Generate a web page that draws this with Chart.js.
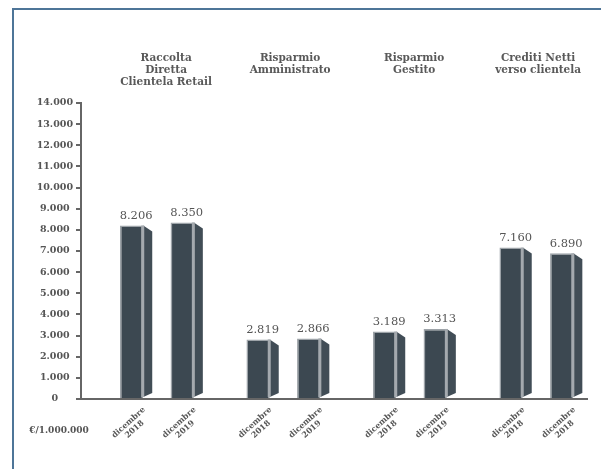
<html>
<head>
<script src="https://cdn.jsdelivr.net/npm/chart.js"></script>
<style>
  body { margin: 0; background: #fff; overflow: hidden; }
  #frame { position: absolute; left: 12px; top: 8px; width: 700px; height: 600px;
           border-left: 2px solid #4e7598; border-top: 2px solid #4e7598; }
  #c { position: absolute; left: 0; top: 0; }
</style>
</head>
<body>
<div id="frame"></div>
<canvas id="c" width="601" height="469"></canvas>
<script>
// data
const groupTitles = [
  ['Raccolta', 'Diretta', 'Clientela Retail'],
  ['Risparmio', 'Amministrato'],
  ['Risparmio', 'Gestito'],
  ['Crediti Netti', 'verso clientela']
];
const valuesFirst = [8206, 2819, 3189, 7160];
const valuesSecond = [8350, 2866, 3313, 6890];
const labelsFirst = [['dicembre', '2018'], ['dicembre', '2018'], ['dicembre', '2018'], ['dicembre', '2018']];
const labelsSecond = [['dicembre', '2019'], ['dicembre', '2019'], ['dicembre', '2019'], ['dicembre', '2018']];
const yTicks = [0, 1000, 2000, 3000, 4000, 5000, 6000, 7000, 8000, 9000, 10000, 11000, 12000, 13000, 14000];
const unitLabel = '€/1.000.000';

const SERIF = '"DejaVu Serif", serif';
const fmt = v => String(v).replace(/\B(?=(\d{3})+(?!\d))/g, '.');

// the groups sit a bit right of the y axis, titles spaced a little tighter
const shiftBars = s => { s._startValue = -0.6; s._valueRange = 4; };
const shiftTitles = s => { s._startValue = -0.686; s._valueRange = 4.08; };

const bar3d = {
  id: 'bar3d',
  afterDatasetsDraw(chart) {
    const ctx = chart.ctx;
    const depth = 9;
    const perBar = [labelsFirst, labelsSecond];
    ctx.save();
    chart.data.datasets.forEach((ds, di) => {
      chart.getDatasetMeta(di).data.forEach((el, i) => {
        const p = el.getProps(['x', 'y', 'base', 'width'], true);
        const r = p.x + p.width / 2;
        // side face
        ctx.fillStyle = '#414d56';
        ctx.beginPath();
        ctx.moveTo(r, p.y);
        ctx.lineTo(r + depth, p.y + 6);
        ctx.lineTo(r + depth, p.base - 5);
        ctx.lineTo(r, p.base - 1);
        ctx.closePath();
        ctx.fill();
        // light edge between front and side
        ctx.fillStyle = '#a4a9ae';
        ctx.fillRect(r - 2, p.y, 3, p.base - p.y - 1);

        // value label
        ctx.fillStyle = '#555';
        ctx.font = '11.5px ' + SERIF;
        ctx.textAlign = 'center';
        ctx.textBaseline = 'bottom';
        ctx.fillText(fmt(ds.data[i]), p.x + depth / 2, p.y - 4);

        // rotated period label
        const lines = perBar[di][i];
        ctx.save();
        ctx.translate(p.x, chart.chartArea.bottom + 27);
        ctx.rotate(-42 * Math.PI / 180);
        ctx.font = 'bold 8px ' + SERIF;
        ctx.textBaseline = 'middle';
        ctx.fillText(lines[0], 0, -4.5);
        ctx.fillText(lines[1], 0, 4.5);
        ctx.restore();
      });
    });
    // unit label under the y axis
    const ys = chart.scales.y;
    ctx.fillStyle = '#555';
    ctx.font = 'bold 9px ' + SERIF;
    ctx.textAlign = 'center';
    ctx.textBaseline = 'middle';
    ctx.fillText(unitLabel, ys.left + 59, chart.chartArea.bottom + 32);
    ctx.restore();
  }
};

new Chart(document.getElementById('c'), {
  type: 'bar',
  data: {
    labels: groupTitles,
    datasets: [
      { data: valuesFirst, backgroundColor: '#3c4851', borderColor: '#9da3a8', borderWidth: 1.5 },
      { data: valuesSecond, backgroundColor: '#3c4851', borderColor: '#9da3a8', borderWidth: 1.5 }
    ]
  },
  options: {
    responsive: false,
    animation: false,
    layout: { padding: { left: 0, right: 14, top: 0, bottom: 70 } },
    datasets: { bar: { categoryPercentage: 0.8, barPercentage: 0.46 } },
    plugins: { legend: { display: false }, tooltip: { enabled: false } },
    scales: {
      x: {
        type: 'category',
        ticks: { display: false },
        grid: { display: false, drawTicks: false },
        border: { display: true, color: '#666', width: 2 },
        afterFit: s => { s.height = 0; },
        afterUpdate: shiftBars
      },
      x2: {
        type: 'category',
        position: 'top',
        labels: groupTitles,
        grid: { display: false, drawTicks: false },
        border: { display: false },
        ticks: {
          color: '#595959',
          font: { family: SERIF, size: 10.5, weight: 'bold', lineHeight: 1.12 },
          maxRotation: 0, autoSkip: false, crossAlign: 'far', padding: 15
        },
        afterFit: s => { s.height = 103; },
        afterUpdate: shiftTitles
      },
      y: {
        min: 0,
        max: 14000,
        afterBuildTicks: s => { s.ticks = yTicks.map(v => ({ value: v })); },
        afterFit: s => { s.width = 81; },
        grid: { drawOnChartArea: false, drawTicks: true, tickLength: 5, color: '#666', lineWidth: 2 },
        border: { display: true, color: '#666', width: 2 },
        ticks: {
          color: '#555',
          padding: 3,
          crossAlign: 'center',
          font: { family: SERIF, size: 9.5, weight: 'bold' },
          callback: v => fmt(v)
        }
      }
    }
  },
  plugins: [bar3d]
});
</script>
</body>
</html>
